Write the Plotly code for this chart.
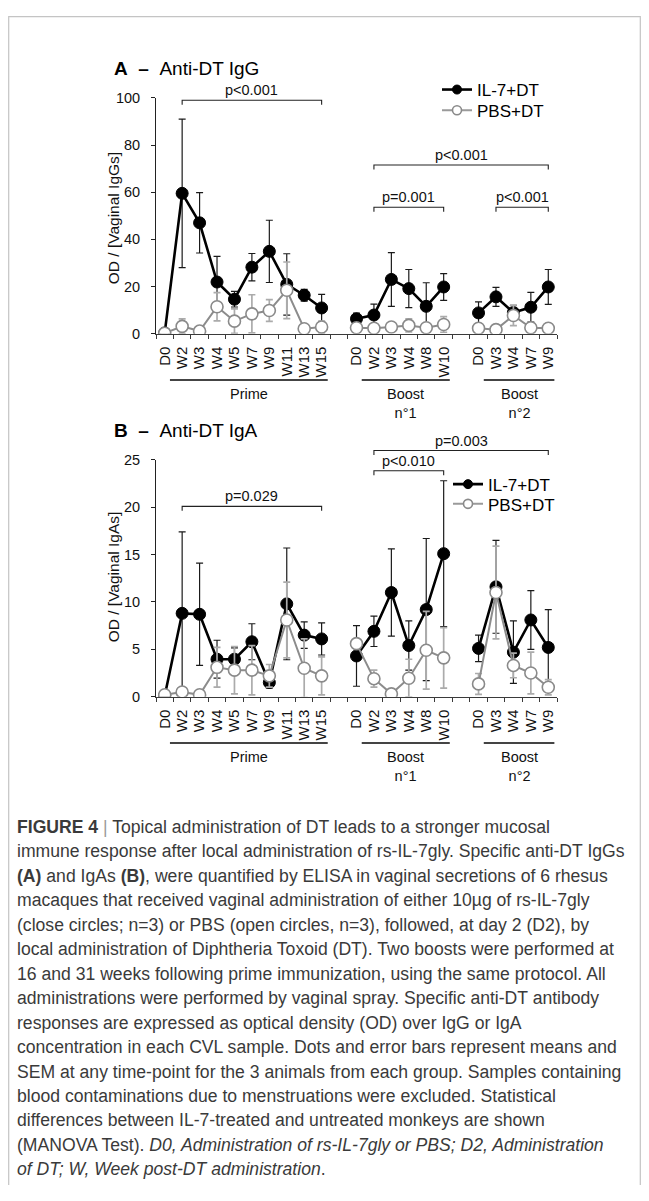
import plotly.graph_objects as go

# target page 649x1201; the browser body keeps its default 8px margin,
# so the figure itself is 16px smaller and everything is laid out in page pixels
PAGE_W, PAGE_H = 649, 1201
PAD = 8
W, H = PAGE_W - 2 * PAD, PAGE_H - 2 * PAD

# ---------------- categories ----------------
prime_labels = ["D0", "W2", "W3", "W4", "W5", "W7", "W9", "W11", "W13", "W15"]
boost1_labels = ["D0", "W2", "W3", "W4", "W8", "W10"]
boost2_labels = ["D0", "W3", "W4", "W7", "W9"]
phase_names = ["Prime", "Boost<br>n°1", "Boost<br>n°2"]
series_names = ["IL-7+DT", "PBS+DT"]

# ---------------- Panel A : anti-DT IgG ----------------
igg_il7_prime = [0.3, 59.5, 47.0, 21.9, 14.6, 28.2, 34.9, 20.9, 16.3, 10.9]
igg_il7_prime_err = [0.0, 31.5, 12.8, 10.9, 3.3, 5.8, 13.2, 13.0, 2.5, 5.8]
igg_il7_boost1 = [6.3, 7.9, 23.0, 19.1, 11.6, 19.8]
igg_il7_boost1_err = [2.4, 4.6, 11.4, 8.1, 10.0, 5.7]
igg_il7_boost2 = [8.8, 15.6, 9.0, 11.2, 19.8]
igg_il7_boost2_err = [4.7, 4.0, 3.0, 6.3, 7.4]

igg_pbs_prime = [0.2, 3.1, 1.1, 11.4, 5.3, 8.4, 9.8, 18.4, 2.1, 2.8]
igg_pbs_prime_err = [0.0, 3.2, 0.5, 6.0, 5.2, 8.1, 4.6, 12.0, 0.5, 2.5]
igg_pbs_boost1 = [2.5, 2.3, 2.8, 3.5, 2.5, 3.9]
igg_pbs_boost1_err = [0.8, 0.5, 1.7, 2.8, 0.5, 3.3]
igg_pbs_boost2 = [2.3, 1.7, 7.7, 2.5, 2.3]
igg_pbs_boost2_err = [0.8, 0.3, 4.3, 2.0, 0.6]

# ---------------- Panel B : anti-DT IgA ----------------
iga_il7_prime = [0.1, 8.8, 8.7, 3.96, 3.96, 5.8, 1.5, 9.8, 6.5, 6.1]
iga_il7_prime_err = [0.0, 8.6, 5.4, 2.0, 1.2, 1.9, 0.6, 5.9, 1.4, 1.7]
iga_il7_boost1 = [4.3, 6.9, 11.0, 5.4, 9.2, 15.1]
iga_il7_boost1_err = [3.2, 1.6, 4.6, 2.6, 7.5, 7.7]
iga_il7_boost2 = [5.1, 11.6, 4.7, 8.1, 5.2]
iga_il7_boost2_err = [1.4, 4.9, 3.3, 3.1, 4.0]

iga_pbs_prime = [0.2, 0.5, 0.2, 3.1, 2.8, 2.8, 2.2, 8.1, 3.0, 2.2]
iga_pbs_prime_err = [0.0, 0.3, 0.0, 2.1, 2.5, 2.6, 1.2, 4.0, 3.1, 2.0]
iga_pbs_boost1 = [5.6, 1.9, 0.3, 1.95, 4.9, 4.1]
iga_pbs_boost1_err = [0.5, 0.9, 0.0, 2.0, 4.1, 3.2]
iga_pbs_boost2 = [1.35, 11.0, 3.3, 2.5, 1.0]
iga_pbs_boost2_err = [1.1, 4.9, 1.3, 2.2, 0.8]

# statistics (p-values)
igg_pvals = ["p<0.001", "p<0.001", "p=0.001", "p<0.001"]
iga_pvals = ["p=0.029", "p=0.003", "p<0.010"]

caption_lines = [
    "<b>FIGURE 4</b> <span style='color:#9a9a9a'>|</span> Topical administration of DT leads to a stronger mucosal",
    "immune response after local administration of rs-IL-7gly. Specific anti-DT IgGs",
    "<b>(A)</b> and IgAs <b>(B)</b>, were quantified by ELISA in vaginal secretions of 6 rhesus",
    "macaques that received vaginal administration of either 10µg of rs-IL-7gly",
    "(close circles; n=3) or PBS (open circles, n=3), followed, at day 2 (D2), by",
    "local administration of Diphtheria Toxoid (DT). Two boosts were performed at",
    "16 and 31 weeks following prime immunization, using the same protocol. All",
    "administrations were performed by vaginal spray. Specific anti-DT antibody",
    "responses are expressed as optical density (OD) over IgG or IgA",
    "concentration in each CVL sample. Dots and error bars represent means and",
    "SEM at any time-point for the 3 animals from each group. Samples containing",
    "blood contaminations due to menstruations were excluded. Statistical",
    "differences between IL-7-treated and untreated monkeys are shown",
    "(MANOVA Test). <i>D0, Administration of rs-IL-7gly or PBS; D2, Administration</i>",
    "<i>of DT; W, Week post-DT administration</i>.",
]

# ---------------- helpers ----------------
FONT = "Liberation Sans, Arial, Helvetica, sans-serif"
phases = [prime_labels, boost1_labels, boost2_labels]

positions, ticktext, phase_starts = [], [], []
p = 0
for k, labs in enumerate(phases):
    if k > 0:
        p += 1
    phase_starts.append(p)
    for lab in labs:
        positions.append(p)
        ticktext.append(lab)
        p += 1
n_slots = p
all_x = list(range(n_slots))


def assemble(parts):
    out = []
    for k, part in enumerate(parts):
        if k > 0:
            out.append(None)
        out.extend(part)
    return out


def py2paper(py):
    """page pixel row -> paper fraction"""
    return 1 - (py - PAD) / H


def px2paper(px):
    """page pixel column -> paper fraction"""
    return (px - PAD) / W


X0_PX, X1_PX = 156, 557
panels = {
    "A": dict(top=91, bottom=330, ymax=100, dtick=20, xa="x", ya="y",
              legends=[("legend", 83), ("legend3", 104)], legx=437),
    "B": dict(top=458, bottom=698, ymax=25, dtick=5, xa="x2", ya="y2",
              legends=[("legend2", 483), ("legend4", 503)], legx=448),
}

fig = go.Figure()

data = {
    "A": [
        (assemble([igg_il7_prime, igg_il7_boost1, igg_il7_boost2]),
         assemble([igg_il7_prime_err, igg_il7_boost1_err, igg_il7_boost2_err])),
        (assemble([igg_pbs_prime, igg_pbs_boost1, igg_pbs_boost2]),
         assemble([igg_pbs_prime_err, igg_pbs_boost1_err, igg_pbs_boost2_err])),
    ],
    "B": [
        (assemble([iga_il7_prime, iga_il7_boost1, iga_il7_boost2]),
         assemble([iga_il7_prime_err, iga_il7_boost1_err, iga_il7_boost2_err])),
        (assemble([iga_pbs_prime, iga_pbs_boost1, iga_pbs_boost2]),
         assemble([iga_pbs_prime_err, iga_pbs_boost1_err, iga_pbs_boost2_err])),
    ],
}

styles = [
    dict(line=dict(color="#000000", width=2.6),
         marker=dict(size=12, color="#000000", line=dict(color="#000000", width=1)),
         err=dict(color="#1a1a1a", thickness=1.2, width=3.5)),
    dict(line=dict(color="#8c8c8c", width=2.0),
         marker=dict(size=12, color="#ffffff", line=dict(color="#8a8a8a", width=1.6)),
         err=dict(color="#ababab", thickness=1.7, width=3.5)),
]

legend_layouts = {}
for key, pan in panels.items():
    for s, (vals, errs) in enumerate(data[key]):
        st = styles[s]
        fig.add_trace(go.Scatter(
            x=all_x, y=vals, mode="lines+markers", connectgaps=False,
            line=st["line"], marker=st["marker"],
            error_y=dict(type="data", array=errs, visible=True, **st["err"]),
            xaxis=pan["xa"], yaxis=pan["ya"], showlegend=False, hoverinfo="skip",
        ))
    for s, nm in enumerate(series_names):
        st = styles[s]
        mk = dict(st["marker"])
        mk["size"] = 9
        legname, rowy = pan["legends"][s]
        fig.add_trace(go.Scatter(
            x=[None], y=[None], mode="lines+markers", name=nm,
            line=dict(color=st["line"]["color"] if s == 0 else "#9a9a9a",
                      width=st["line"]["width"]),
            marker=mk, xaxis=pan["xa"], yaxis=pan["ya"], legend=legname,
            showlegend=True,
        ))
        legend_layouts[legname] = dict(
            x=px2paper(pan["legx"]), y=py2paper(rowy), xanchor="left", yanchor="middle",
            font=dict(family=FONT, size=17, color="#000"), bgcolor="rgba(0,0,0,0)",
            borderwidth=0, itemwidth=30)

boundaries = [i - 0.5 for i in range(n_slots + 1)]
axis_common = dict(
    range=[-0.5, n_slots - 0.5], tickmode="array", tickvals=positions, ticktext=ticktext,
    tickangle=-90, ticks="", showline=True, linecolor="#3a3a3a", linewidth=1,
    showgrid=False, zeroline=False, tickfont=dict(family=FONT, size=15, color="#111"),
    ticklabelstandoff=6,
    minor=dict(tickmode="array", tickvals=boundaries, ticks="outside", ticklen=4,
               tickwidth=1, tickcolor="#3a3a3a", showgrid=False),
    domain=[px2paper(X0_PX), px2paper(X1_PX)], fixedrange=True,
)
for key, pan in panels.items():
    xname = "xaxis" if pan["xa"] == "x" else "xaxis2"
    yname = "yaxis" if pan["ya"] == "y" else "yaxis2"
    fig.update_layout({
        xname: dict(axis_common, anchor=pan["ya"]),
        yname: dict(
            anchor=pan["xa"], range=[0, pan["ymax"]],
            domain=[py2paper(pan["bottom"]), py2paper(pan["top"])],
            tickmode="linear", tick0=0, dtick=pan["dtick"], ticks="outside", ticklen=4,
            tickcolor="#222", showline=True, linecolor="#222", linewidth=1, showgrid=False,
            zeroline=False, tickfont=dict(family=FONT, size=14.5, color="#111"),
            ticklabelstandoff=8, fixedrange=True,
        ),
    })

annotations, shapes = [], []


def dom(pan, px_offset_from_zero=0.0, value=None):
    h = pan["bottom"] - pan["top"]
    base = 0.0 if value is None else value / pan["ymax"]
    return base + px_offset_from_zero / h


NB = "\u00a0"
titles = {"A": ("A", "Anti-DT IgG", "OD / [Vaginal IgGs]", 61, 213),
          "B": ("B", "Anti-DT IgA", "OD / [Vaginal IgAs]", 428, 577)}
for key, (letter, ttl, ytitle, ty, yty) in titles.items():
    annotations.append(dict(
        text=f"<b>{letter}</b>{NB}{NB}<b>–</b>{NB}{NB}{ttl}", xref="paper", yref="paper",
        x=px2paper(112), y=py2paper(ty), xanchor="left", yanchor="middle",
        showarrow=False, font=dict(family=FONT, size=19, color="#000")))
    annotations.append(dict(
        text=ytitle, textangle=-90, xref="paper", yref="paper",
        x=px2paper(113), y=py2paper(yty), xanchor="center", yanchor="middle",
        showarrow=False, font=dict(family=FONT, size=15.5, color="#111")))

for key, pan in panels.items():
    ydref = pan["ya"] + " domain"
    for k, labs in enumerate(phases):
        s0 = phase_starts[k]
        x0 = s0 + 0.3
        x1 = s0 + len(labs) - 1 + 0.35
        shapes.append(dict(type="line", xref=pan["xa"], yref=ydref, x0=x0, x1=x1,
                           y0=dom(pan, -47), y1=dom(pan, -47),
                           line=dict(color="#444", width=2)))
        annotations.append(dict(
            text=phase_names[k], xref=pan["xa"], yref=ydref, x=(x0 + x1) / 2,
            y=dom(pan, -51), xanchor="center", yanchor="top", showarrow=False,
            font=dict(family=FONT, size=14.5, color="#111")))

bx = {
    "A": [(1, 9, 99.0, igg_pvals[0]), (12, 22, 71.5, igg_pvals[1]),
          (12, 16, 53.6, igg_pvals[2]), (19, 22, 53.6, igg_pvals[3])],
    "B": [(1, 9, 20.1, iga_pvals[0]), (12, 22, 26.0, iga_pvals[1]),
          (12, 16, 23.85, iga_pvals[2])],
}
for key, pan in panels.items():
    ydref = pan["ya"] + " domain"
    for (a, b, lvl, txt) in bx[key]:
        yl = dom(pan, 0, lvl)
        yt = dom(pan, -4.5, lvl)
        shapes.append(dict(type="path", xref=pan["xa"], yref=ydref,
                           path=f"M {a},{yt} L {a},{yl} L {b},{yl} L {b},{yt}",
                           line=dict(color="#222", width=1.1)))
        annotations.append(dict(
            text=txt, xref=pan["xa"], yref=ydref, x=(a + b) / 2, y=dom(pan, 10, lvl),
            xanchor="center", yanchor="middle", showarrow=False,
            font=dict(family=FONT, size=14.5, color="#111")))

cap_y0, cap_dy = 830, 24.8
for i, line in enumerate(caption_lines):
    annotations.append(dict(
        text=line, xref="paper", yref="paper", x=px2paper(15), y=py2paper(cap_y0 + i * cap_dy),
        xanchor="left", yanchor="middle", showarrow=False, align="left",
        font=dict(family=FONT, size=17.6, color="#3a3a3a")))

# outer frame (as close to the page edge as the figure allows; open at the bottom)
fx0, fx1, fy = px2paper(8.7), px2paper(640.3), py2paper(8.7)
shapes.append(dict(type="path", xref="paper", yref="paper",
                   path=f"M {fx0},0 L {fx0},{fy} L {fx1},{fy} L {fx1},0",
                   line=dict(color="#c4c4c4", width=1.2)))

fig.update_layout(
    width=W, height=H, margin=dict(l=0, r=0, t=0, b=0),
    paper_bgcolor="white", plot_bgcolor="white",
    annotations=annotations, shapes=shapes,
    showlegend=True,
    **legend_layouts,
)

fig.write_html("out.html", config={"displayModeBar": False, "staticPlot": True})
